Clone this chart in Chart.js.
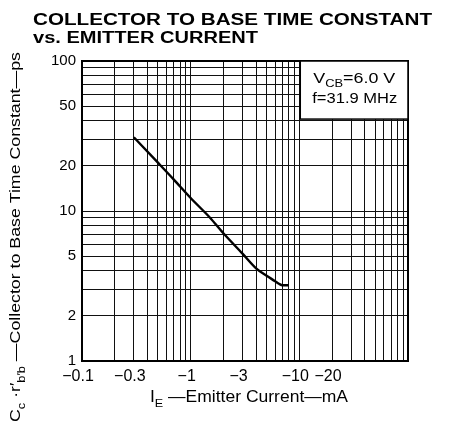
<!DOCTYPE html>
<html><head><meta charset="utf-8">
<script src="https://cdn.jsdelivr.net/npm/chart.js@4.4.0/dist/chart.umd.min.js"></script>
<style>html,body{margin:0;padding:0;background:#fff}canvas{display:block}</style>
</head><body>
<canvas id="c" width="455" height="428"></canvas>
<script>
// ---- data ----
const titleLines = ["COLLECTOR TO BASE TIME CONSTANT", "vs. EMITTER CURRENT"];
const emitterCurrent = [0.3, 0.5, 0.7, 1, 1.5, 2, 3, 4, 5, 6, 6.5, 7, 8];        // |I_E| mA
const timeConstant   = [31, 21, 16.2, 12.2, 9.05, 7.1, 5.2, 4.15, 3.7, 3.4, 3.27, 3.2, 3.2]; // ps
const xGridValues = [0.1,0.2,0.3,0.4,0.5,0.6,0.7,0.8,0.9,1,2,3,4,5,6,7,8,9,10,20,30,40,50,60,70,80,90,100];
const xTickValues = [0.1, 0.3, 1, 3, 10, 20];
const xTickText   = ["\u22120.1", "\u22120.3", "\u22121", "\u22123", "\u221210", "\u221220"];
const yGridValues = [1,2,3,4,5,6,7,8,9,10,20,30,40,50,60,70,80,90,100];
const yTickValues = [1, 2, 5, 10, 20, 50, 100];
const conditionLines = [
  [{t:"V"},{t:"CB",sub:true},{t:"=6.0 V"}],
  [{t:"f=31.9 MHz"}]
];
const xTitleRuns = [{t:"I"},{t:"E",sub:true},{t:" \u2014Emitter Current\u2014mA"}];
const yTitleRuns = [{t:"C"},{t:"c",sub:true},{t:" \u00B7r\u2032"},{t:"b\u2032b",sub:true},{t:" \u2014Collector to Base Time Constant\u2014ps"}];

const FONT = "'Liberation Sans', Arial, Helvetica, sans-serif";

function runsWidth(ctx, runs, size, weight) {
  let w = 0;
  for (const r of runs) {
    ctx.font = `${weight||''} ${r.sub ? size*0.72 : size}px ${FONT}`;
    w += ctx.measureText(r.t).width;
  }
  return w;
}
function drawRuns(ctx, runs, x, y, size, targetW, weight) {
  const w = runsWidth(ctx, runs, size, weight);
  const s = targetW ? targetW / w : 1;
  ctx.save();
  ctx.translate(x, y);
  ctx.scale(s, 1);
  ctx.textBaseline = 'alphabetic';
  ctx.textAlign = 'left';
  ctx.fillStyle = '#000';
  let cx = 0;
  for (const r of runs) {
    const fs = r.sub ? size*0.72 : size;
    ctx.font = `${weight||''} ${fs}px ${FONT}`;
    ctx.fillText(r.t, cx, r.sub ? size*0.3 : 0);
    cx += ctx.measureText(r.t).width;
  }
  ctx.restore();
}

const decor = {
  id: 'decor',
  afterDraw(chart) {
    const ctx = chart.ctx;
    const a = chart.chartArea;
    ctx.save();
    ctx.strokeStyle = '#000';
    ctx.lineWidth = 2;
    ctx.strokeRect(a.left, a.top, a.right - a.left, a.bottom - a.top);
    // conditions box
    const bx = chart.scales.x.getPixelForValue(10.2);
    const by = chart.scales.y.getPixelForValue(41);
    ctx.fillStyle = '#fff';
    ctx.fillRect(bx, a.top, a.right - bx, by - a.top);
    ctx.lineWidth = 1.5;
    ctx.strokeRect(bx, a.top, a.right - bx, by - a.top);
    ctx.restore();
    drawRuns(ctx, conditionLines[0], bx + 13, a.top + 22, 14, 82);
    drawRuns(ctx, conditionLines[1], bx + 12, a.top + 42, 14, 85);
    // title
    drawRuns(ctx, [{t:titleLines[0]}], 33, 25, 16, 399, 'bold');
    drawRuns(ctx, [{t:titleLines[1]}], 33, 43, 16, 225, 'bold');
    // x title
    drawRuns(ctx, xTitleRuns, 150, 402, 16, 198);
    // y title (rotated)
    ctx.save();
    ctx.translate(20, 422);
    ctx.rotate(-Math.PI / 2);
    drawRuns(ctx, yTitleRuns, 0, 0, 15.5, 370);
    ctx.restore();
  }
};

new Chart(document.getElementById('c'), {
  type: 'line',
  data: {
    datasets: [{
      data: emitterCurrent.map((x, i) => ({x, y: timeConstant[i]})),
      borderColor: '#000',
      borderWidth: 2.4,
      pointRadius: 0,
      fill: false,
      cubicInterpolationMode: 'monotone'
    }]
  },
  options: {
    responsive: false,
    animation: false,
    devicePixelRatio: 1,
    layout: { padding: { left: 0, top: 61, right: 47, bottom: 0 } },
    plugins: { legend: { display: false }, tooltip: { enabled: false }, title: { display: false } },
    scales: {
      x: {
        type: 'logarithmic', min: 0.1, max: 100,
        afterBuildTicks: s => { s.ticks = xGridValues.map(v => ({value: v})); },
        afterFit: s => { s.height = 67; },
        grid: { color: '#111', lineWidth: 1, drawTicks: false },
        border: { display: true, color: '#000', width: 2 },
        ticks: {
          autoSkip: false, maxRotation: 0, minRotation: 0, padding: 6, labelOffset: -4,
          color: '#000', font: { family: FONT, size: 16 },
          callback: v => { const i = xTickValues.indexOf(v); return i >= 0 ? xTickText[i] : ''; }
        }
      },
      y: {
        type: 'logarithmic', min: 1, max: 100,
        afterBuildTicks: s => { s.ticks = yGridValues.map(v => ({value: v})); },
        afterFit: s => { s.width = 82; },
        grid: { color: '#111', lineWidth: 1, drawTicks: false },
        border: { display: true, color: '#000', width: 2 },
        ticks: {
          autoSkip: false, padding: 6,
          color: '#000', font: { family: FONT, size: 15 },
          callback: v => yTickValues.includes(v) ? String(v) : ''
        }
      }
    }
  },
  plugins: [decor]
});
</script>
</body></html>
